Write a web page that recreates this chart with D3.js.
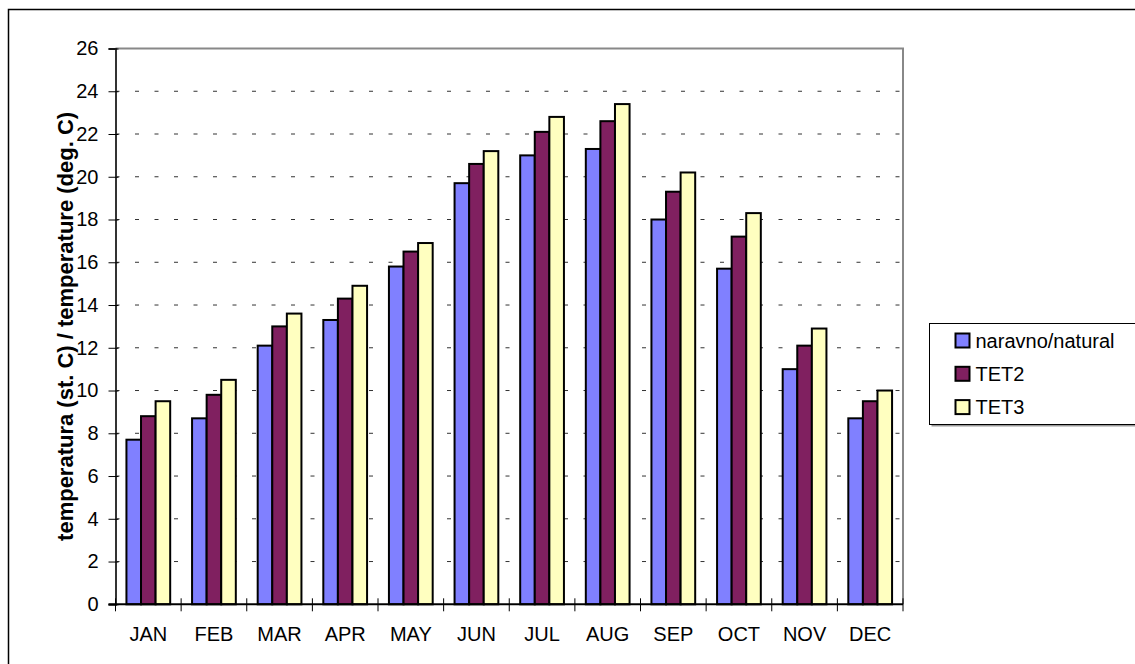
<!DOCTYPE html>
<html>
<head>
<meta charset="utf-8">
<script src="https://cdn.jsdelivr.net/npm/d3@7"></script>
<style>
  body { margin: 0; background: #fff; }
  svg { display: block; font-family: "Liberation Sans", Arial, sans-serif; }
</style>
</head>
<body>
<div id="chart"></div>
<script>
const months = ["JAN", "FEB", "MAR", "APR", "MAY", "JUN", "JUL", "AUG", "SEP", "OCT", "NOV", "DEC"];
const natural = [7.7, 8.7, 12.1, 13.3, 15.8, 19.7, 21.0, 21.3, 18.0, 15.7, 11.0, 8.7];
const tet2 = [8.8, 9.8, 13.0, 14.3, 16.5, 20.6, 22.1, 22.6, 19.3, 17.2, 12.1, 9.5];
const tet3 = [9.5, 10.5, 13.6, 14.9, 16.9, 21.2, 22.8, 23.4, 20.2, 18.3, 12.9, 10.0];
const seriesNames = ["naravno/natural", "TET2", "TET3"];
const seriesColors = ["#8080FF", "#802060", "#FFFFC0"];
const yTicks = [0, 2, 4, 6, 8, 10, 12, 14, 16, 18, 20, 22, 24, 26];

const W = 1135, H = 664;
const plot = { left: 115.5, right: 903, top: 48.5, bottom: 604.3 };

const svg = d3.select("#chart").append("svg").attr("width", W).attr("height", H);

// outer chart frame (runs off the right/bottom edge like the screenshot)
svg.append("rect").attr("x", 8.5).attr("y", 9.5).attr("width", W + 10).attr("height", H + 10)
  .attr("fill", "#fff").attr("stroke", "#000").attr("stroke-width", 1.5);

const x0 = d3.scaleBand().domain(months).range([plot.left, plot.right]).padding(0);
const bw = x0.bandwidth();
const x1 = d3.scaleBand().domain(seriesNames).range([bw / 6, bw * 5 / 6]).padding(0);
const y = d3.scaleLinear().domain([0, 26]).range([plot.bottom, plot.top]);

// gridlines
svg.append("g").selectAll("line").data(yTicks.filter(d => d > 0 && d < 26)).join("line")
  .attr("x1", plot.left).attr("x2", plot.right)
  .attr("y1", d => y(d)).attr("y2", d => y(d))
  .attr("stroke", "#333").attr("stroke-width", 1).attr("stroke-dasharray", "4,15.5");

// plot border (top + right are grey)
svg.append("path")
  .attr("d", `M${plot.left},${y(26)}H${plot.right}V${plot.bottom}`)
  .attr("fill", "none").attr("stroke", "#888").attr("stroke-width", 2);

// bars
const rows = months.map((m, i) => ({ month: m, vals: [natural[i], tet2[i], tet3[i]] }));
const groups = svg.append("g").selectAll("g").data(rows).join("g")
  .attr("transform", d => `translate(${x0(d.month)},0)`);
groups.selectAll("rect").data(d => d.vals.map((v, k) => ({ name: seriesNames[k], v, k }))).join("rect")
  .attr("x", d => x1(d.name)).attr("width", x1.bandwidth())
  .attr("y", d => y(d.v)).attr("height", d => y(0) - y(d.v))
  .attr("fill", d => seriesColors[d.k]).attr("stroke", "#000").attr("stroke-width", 2);

// y axis
const yAxis = svg.append("g").attr("transform", `translate(${plot.left},0)`)
  .call(d3.axisLeft(y).tickValues(yTicks).tickSize(7).tickPadding(10));
yAxis.select(".domain").attr("stroke", "#333").attr("stroke-width", 2);
yAxis.selectAll(".tick line").attr("x1", 3).attr("stroke", "#000");
yAxis.selectAll(".tick text").style("font-size", "20px").attr("fill", "#000");

// x axis
svg.append("line").attr("x1", plot.left - 7).attr("x2", plot.right)
  .attr("y1", y(0)).attr("y2", y(0)).attr("stroke", "#000").attr("stroke-width", 2);
const edges = months.map(m => x0(m)).concat([plot.right]);
svg.append("g").selectAll("line").data(edges).join("line")
  .attr("x1", d => d).attr("x2", d => d)
  .attr("y1", y(0) - 6).attr("y2", y(0) + 7)
  .attr("stroke", "#000").attr("stroke-width", 1);
svg.append("g").selectAll("text").data(months).join("text")
  .attr("x", d => x0(d) + bw / 2).attr("y", 641)
  .attr("text-anchor", "middle").style("font-size", "20px").text(d => d);

// y title
svg.append("text")
  .attr("transform", `translate(73,${(plot.top + plot.bottom) / 2}) rotate(-90)`)
  .attr("text-anchor", "middle").style("font-size", "22px").style("font-weight", "bold")
  .text("temperatura (st. C) / temperature (deg. C)");

// legend
const lg = svg.append("g").attr("transform", "translate(929.5,323.5)");
lg.append("rect").attr("x", 2).attr("y", 2).attr("width", 230).attr("height", 101).attr("fill", "#999");
lg.append("rect").attr("width", 230).attr("height", 101).attr("fill", "#fff").attr("stroke", "#000").attr("stroke-width", 1);
const items = lg.selectAll("g").data(seriesNames).join("g")
  .attr("transform", (d, i) => `translate(26,${10 + i * 33.3})`);
items.append("rect").attr("width", 14).attr("height", 14)
  .attr("fill", (d, i) => seriesColors[i]).attr("stroke", "#000").attr("stroke-width", 2);
items.append("text").attr("x", 20).attr("y", 14).style("font-size", "20px").text(d => d);
</script>
</body>
</html>
